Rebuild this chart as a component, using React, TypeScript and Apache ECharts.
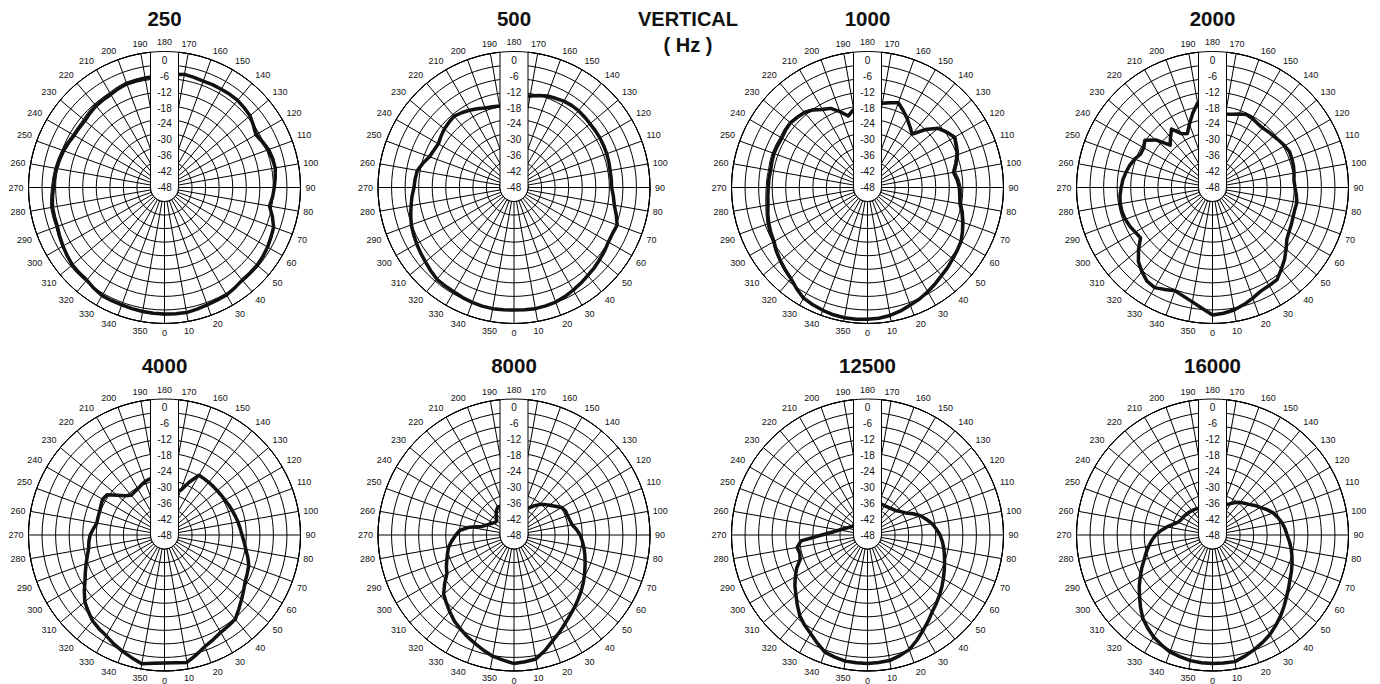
import React, { useEffect, useRef } from "react";
import * as echarts from "echarts";

// ---------------- data ----------------
const ANGLES = [
  0, 5, 10, 15, 20, 25, 30, 35, 40, 45, 50, 55, 60, 65, 70, 75, 80, 85, 90, 95,
  100, 105, 110, 115, 120, 125, 130, 135, 140, 145, 150, 155, 160, 165, 170, 175,
  180, 185, 190, 195, 200, 205, 210, 215, 220, 225, 230, 235, 240, 245, 250, 255,
  260, 265, 270, 275, 280, 285, 290, 295, 300, 305, 310, 315, 320, 325, 330, 335,
  340, 345, 350, 355,
];

const DB_LABELS = [0, -6, -12, -18, -24, -30, -36, -42, -48];

const DB_250 = [
  -0.2, -0.1, 0, -0.4, -0.8, -1.0, -1.1, -1.7, -2.3, -2.3,
  -2.3, -2.6, -3.0, -3.6, -4.1, -5.8, -7.7, -7.0, -6.5, -6.0,
  -5.5, -5.8, -6.4, -7.2, -8.1, -7.0, -5.8, -5.4, -5.0, -5.0,
  -5.1, -5.1, -5.2, -4.9, -4.6, -5.0, -5.5, -6.0, -6.1, -6.2,
  -6.3, -6.8, -7.4, -7.6, -7.7, -8.2, -8.7, -8.7, -8.6, -8.0,
  -7.4, -7.0, -6.6, -6.3, -6.0, -5.5, -5.0, -5.0, -4.9, -4.3,
  -3.7, -3.1, -2.5, -2.4, -2.3, -1.5, -0.8, -0.8, -0.8, -0.6,
  -0.4, -0.3,
];
const THIN_250 = [
  0.2, 0.2, 0.1, -0.3, -0.6, -0.8, -1.0, -1.5, -2.0, -2.0,
  -2.0, -2.3, -2.7, -3.3, -4.0, -5.6, -7.4, -6.8, -6.3, -5.7,
  -5.2, -5.2, -5.6, -6.6, -7.4, -6.6, -5.6, -5.2, -4.8, -4.8,
  -4.9, -4.9, -5.0, -4.7, -4.4, -4.6, -5.0, -5.4, -5.5, -5.6,
  -5.6, -6.0, -6.5, -6.8, -6.9, -7.4, -7.9, -8.0, -7.9, -7.3,
  -6.7, -6.3, -5.9, -5.6, -5.3, -4.8, -4.3, -4.3, -4.3, -3.8,
  -3.3, -2.8, -2.2, -2.1, -2.0, -1.3, -0.7, -0.6, -0.5, -0.3,
  -0.1, 0.0,
];
const DB_500 = [
  -1.7, -1.6, -1.5, -1.7, -1.9, -2.5, -3.2, -3.9, -4.6, -5.1,
  -5.7, -6.2, -6.8, -6.9, -6.5, -8.0, -9.5, -10.3, -11.1, -11.1,
  -11.1, -10.9, -10.7, -10.6, -10.5, -10.5, -10.5, -10.3, -10.1, -10.1,
  -10.3, -10.8, -11.2, -12.0, -12.9, -13.5, -14.5, -15.5, -16.7, -16.4,
  -16.0, -15.2, -14.3, -13.5, -12.8, -13.2, -13.6, -14.3, -15.0, -14.6,
  -14.0, -12.4, -10.9, -10.5, -10.2, -9.3, -8.5, -7.6, -6.7, -6.1,
  -5.5, -4.9, -4.3, -3.5, -2.7, -2.6, -2.5, -2.1, -1.8, -1.6,
  -1.5, -1.6,
];
const DB_1000 = [
  1.8, 1.6, 1.1, 0.3, -0.7, -1.5, -2.5, -3.5, -4.5, -5.2,
  -6.0, -6.6, -7.2, -8.4, -9.7, -11.0, -12.5, -13.0, -13.3, -14.0,
  -15.0, -13.5, -12.0, -11.0, -10.0, -11.5, -13.2, -17.0, -21.7, -20.0,
  -18.0, -16.0, -13.9, -14.8, -15.7, -16.0, -16.5, -17.5, -18.0, -20.0,
  -17.5, -15.0, -14.0, -12.2, -11.0, -10.5, -10.0, -10.2, -10.6, -10.5,
  -10.4, -10.6, -10.8, -10.6, -10.5, -10.2, -9.8, -9.0, -8.3, -7.7,
  -7.2, -6.0, -5.0, -4.0, -3.0, -1.3, 0.3, 0.9, 1.4, 1.8,
  2.0, 2.0,
];
const THIN_1000 = [
  2.0, 1.8, 1.3, 0.5, -0.4, -1.2, -2.2, -3.2, -4.2, -4.9,
  -5.7, -6.3, -6.9, -8.0, -9.2, -10.4, -11.8, -12.3, -12.6, -13.2,
  -14.2, -12.8, -11.3, -10.4, -9.5, -11.0, -12.8, -16.6, -21.3, -19.7,
  -17.7, -15.7, -13.6, -14.5, -15.4, -15.7, -16.2, -17.2, -17.7, -19.6,
  -17.0, -14.6, -13.5, -11.7, -10.5, -10.0, -9.5, -9.6, -9.9, -9.8,
  -9.7, -9.8, -10.0, -9.8, -9.7, -9.4, -9.0, -8.3, -7.6, -7.0,
  -6.6, -5.5, -4.6, -3.6, -2.6, -1.0, 0.5, 1.1, 1.6, 2.0,
  2.2, 2.2,
];
const DB_2000 = [
  0.2, -0.3, -1.0, -2.2, -3.5, -4.8, -5.2, -5.5, -7.6, -9.5,
  -11.7, -13.7, -14.6, -15.1, -15.6, -15.8, -15.6, -16.2, -16.8, -17.1,
  -16.7, -16.3, -16.1, -15.9, -16.5, -17.2, -17.8, -18.2, -18.6, -18.4,
  -17.9, -17.6, -18.4, -19.3, -19.8, -19.0, -18.0, -17.0, -15.6, -19.0,
  -22.5, -25.5, -24.5, -21.0, -23.3, -25.4, -20.0, -16.8, -18.0, -18.0,
  -16.7, -15.6, -14.8, -14.0, -13.5, -12.9, -12.6, -12.6, -12.9, -13.5,
  -14.3, -14.8, -11.5, -8.4, -6.5, -4.8, -4.3, -5.5, -6.5, -5.5,
  -4.1, -2.2,
];
const DB_4000 = [
  0.4, 0.5, 0.9, -1.2, -3.2, -4.4, -5.5, -6.0, -6.4, -8.3,
  -10.0, -11.5, -12.8, -13.5, -14.1, -15.4, -16.8, -17.8, -18.7, -19.3,
  -19.8, -20.3, -20.8, -21.2, -21.6, -21.8, -22.0, -22.0, -22.0, -22.0,
  -21.9, -26.0, -30.0, -30.5, -31.0, -31.0, -30.0, -28.0, -26.0, -26.1,
  -26.5, -27.2, -27.8, -28.2, -28.4, -27.0, -24.7, -21.5, -21.0, -21.5,
  -21.9, -22.0, -22.0, -21.0, -19.9, -19.3, -18.9, -17.8, -16.5, -15.0,
  -13.3, -11.0, -8.7, -7.2, -5.7, -4.8, -4.0, -2.6, -1.3, 0.0,
  1.4, 0.7,
];
const DB_8000 = [
  0.6, 0.1, -0.4, -2.8, -5.4, -7.4, -9.4, -11.0, -12.4, -13.7,
  -14.9, -16.1, -17.3, -18.4, -19.4, -20.3, -21.2, -22.1, -23.0, -24.3,
  -25.7, -26.2, -26.5, -26.5, -27.2, -29.0, -30.5, -31.7, -33.0, -34.5,
  -36.0, -37.0, -37.6, -38.0, -38.0, -38.0, -38.0, -37.5, -37.0, -36.8,
  -36.5, -36.0, -35.8, -36.5, -37.5, -38.5, -39.5, -39.5, -38.9, -38.0,
  -37.0, -35.5, -31.0, -27.5, -26.0, -24.5, -23.0, -22.0, -21.0, -19.8,
  -18.7, -16.0, -13.3, -11.8, -10.2, -8.5, -7.2, -5.8, -4.5, -3.0,
  -1.5, -0.5,
];
const DB_12500 = [
  0.6, 0.4, 0.2, -0.8, -1.9, -4.0, -6.2, -8.1, -10.0, -11.3,
  -12.5, -13.7, -14.9, -16.0, -17.0, -17.9, -18.7, -19.6, -20.6, -21.9,
  -23.2, -25.0, -26.7, -29.0, -31.3, -32.6, -33.8, -34.3, -34.7, -35.0,
  -35.2, -35.2, -35.2, -35.5, -36.0, -37.0, -38.0, -39.0, -40.0, -40.5,
  -41.0, -41.3, -41.5, -41.5, -41.5, -41.5, -41.5, -41.5, -41.5, -40.8,
  -40.0, -38.8, -37.2, -34.8, -30.7, -22.8, -21.0, -21.5, -20.9, -18.5,
  -16.5, -14.5, -12.7, -10.5, -8.2, -6.5, -5.0, -3.0, -0.9, -0.2,
  0.4, 0.5,
];
const DB_16000 = [
  0.6, 0.6, 0.6, -0.6, -1.9, -3.2, -4.6, -6.3, -8.0, -9.8,
  -11.5, -12.9, -14.2, -15.1, -16.0, -16.9, -17.8, -18.8, -19.8, -20.5,
  -21.3, -22.4, -23.6, -25.3, -27.1, -28.5, -30.0, -31.0, -31.9, -33.0,
  -34.3, -35.3, -36.3, -36.7, -37.0, -37.0, -37.0, -37.0, -37.0, -37.0,
  -37.0, -36.7, -36.5, -36.2, -36.0, -35.7, -35.5, -35.2, -35.0, -34.7,
  -34.0, -32.5, -30.5, -28.5, -26.5, -25.0, -23.5, -22.0, -20.5, -18.5,
  -16.5, -14.2, -12.0, -9.5, -7.0, -5.2, -3.5, -2.2, -1.0, -0.4,
  0.2, 0.5,
];

const TITLES = ["250", "500", "1000", "2000", "4000", "8000", "12500", "16000"];
const THICK = [DB_250, DB_500, DB_1000, DB_2000, DB_4000, DB_8000, DB_12500, DB_16000];
const THIN: (number[] | null)[] = [THIN_250, null, THIN_1000, null, null, null, null, null];
const MAIN_TITLE = "VERTICAL";
const SUB_TITLE = "( Hz )";

// ---------------- layout ----------------
const W = 1380;
const H = 684;
const COL_X = [164.5, 514, 867.5, 1212.5];
const ROW_Y = [187.5, 535];
const R = 136;
const R_CAP = 14;
const DB_MIN = -48;
const DB_MAX = 3.4;
const FONT = "'Liberation Sans', Arial, Helvetica, sans-serif";
const INK = "#111";

function toSeriesData(values: number[]) {
  const d = ANGLES.map((a, j) => [values[j], a]);
  d.push([values[0], 360]);
  return d;
}

function buildOption() {
  const polar: any[] = [];
  const angleAxis: any[] = [];
  const radiusAxis: any[] = [];
  const series: any[] = [];
  const graphic: any[] = [];

  TITLES.forEach((title, i) => {
    const cx = COL_X[i % 4];
    const cy = ROW_Y[Math.floor(i / 4)];
    const base = i * 3;

    // grid polar (spokes + circles + angle labels)
    polar.push({ center: [cx, cy], radius: [R_CAP, R] });
    angleAxis.push({
      polarIndex: base,
      type: "value",
      min: 0,
      max: 360,
      interval: 10,
      startAngle: -90,
      clockwise: false,
      z: 1,
      axisLine: { show: true, lineStyle: { color: "#000", width: 1 } },
      axisTick: { show: false },
      axisLabel: { show: true, margin: 5, fontSize: 9, color: INK, fontFamily: FONT },
      splitLine: { show: true, lineStyle: { color: "#000", width: 1 } },
    });
    radiusAxis.push({
      polarIndex: base,
      type: "value",
      min: 0,
      max: 9,
      interval: 1,
      z: 1,
      axisLine: { show: false },
      axisTick: { show: false },
      axisLabel: { show: false },
      splitLine: { show: true, lineStyle: { color: "#000", width: 1 } },
    });

    // data polar
    polar.push({ center: [cx, cy], radius: [0, R] });
    angleAxis.push({
      polarIndex: base + 1,
      type: "value",
      min: 0,
      max: 360,
      startAngle: -90,
      clockwise: false,
      show: false,
    });
    radiusAxis.push({ polarIndex: base + 1, type: "value", min: DB_MIN, max: DB_MAX, show: false });

    // top polar (outer circle over strip + dB labels)
    polar.push({ center: [cx, cy], radius: [0, R] });
    angleAxis.push({
      polarIndex: base + 2,
      type: "value",
      min: 0,
      max: 360,
      startAngle: 90,
      z: 6,
      axisLine: { show: true, lineStyle: { color: "#000", width: 1 } },
      axisTick: { show: false },
      axisLabel: { show: false },
      splitLine: { show: false },
    });
    radiusAxis.push({
      polarIndex: base + 2,
      type: "value",
      min: DB_MIN,
      max: DB_MAX,
      interval: 6,
      z: 6,
      axisLine: { show: false },
      axisTick: { show: false },
      splitLine: { show: false },
      axisLabel: {
        show: true,
        margin: 0,
        align: "center",
        verticalAlign: "middle",
        fontSize: 10,
        color: INK,
        fontFamily: FONT,
        formatter: (v: number) => (DB_LABELS.indexOf(Math.round(v * 1000) / 1000) >= 0 ? String(v) : ""),
      },
    });

    const thin = THIN[i];
    if (thin) {
      series.push({
        type: "line",
        coordinateSystem: "polar",
        polarIndex: base + 1,
        data: toSeriesData(thin),
        symbol: "none",
        silent: true,
        z: 3,
        lineStyle: { color: INK, width: 1 },
      });
    }
    series.push({
      type: "line",
      coordinateSystem: "polar",
      polarIndex: base + 1,
      data: toSeriesData(THICK[i]),
      symbol: "none",
      silent: true,
      z: 4,
      lineStyle: { color: INK, width: 3.5, join: "round" },
    });

    // white label strip with rounded cap
    series.push({
      type: "custom",
      coordinateSystem: "polar",
      polarIndex: base + 1,
      silent: true,
      z: 5,
      data: [[0, 0]],
      renderItem: (params: any) => {
        const cs = params.coordSys;
        const x0 = cs.cx;
        const y0 = cs.cy;
        const rr = cs.r;
        const top = y0 - Math.sqrt(rr * rr - R_CAP * R_CAP);
        return {
          type: "group",
          children: [
            { type: "circle", shape: { cx: x0, cy: y0, r: R_CAP }, style: { fill: "#fff", stroke: "#000", lineWidth: 1 } },
            { type: "rect", shape: { x: x0 - R_CAP, y: y0 - rr - 1, width: 2 * R_CAP, height: rr + 1 }, style: { fill: "#fff", stroke: null } },
            { type: "line", shape: { x1: x0 - R_CAP, y1: top, x2: x0 - R_CAP, y2: y0 }, style: { stroke: "#000", lineWidth: 1 } },
            { type: "line", shape: { x1: x0 + R_CAP, y1: top, x2: x0 + R_CAP, y2: y0 }, style: { stroke: "#000", lineWidth: 1 } },
          ],
        };
      },
    });

    graphic.push({
      type: "text",
      x: cx,
      y: cy - 169.5,
      silent: true,
      style: {
        text: title,
        fill: INK,
        fontSize: 20.5,
        fontWeight: "bold",
        fontFamily: FONT,
        textAlign: "center",
        textVerticalAlign: "middle",
        align: "center",
        verticalAlign: "middle",
      },
    });
  });

  graphic.push({
    type: "text",
    x: 688,
    y: 19,
    silent: true,
    style: { text: MAIN_TITLE, fill: INK, fontSize: 20, fontWeight: "bold", fontFamily: FONT, textAlign: "center", textVerticalAlign: "middle", align: "center", verticalAlign: "middle" },
  });
  graphic.push({
    type: "text",
    x: 688,
    y: 45,
    silent: true,
    style: { text: SUB_TITLE, fill: INK, fontSize: 20, fontWeight: "bold", fontFamily: FONT, textAlign: "center", textVerticalAlign: "middle", align: "center", verticalAlign: "middle" },
  });

  return {
    animation: false,
    backgroundColor: "#fff",
    polar,
    angleAxis,
    radiusAxis,
    series,
    graphic,
  };
}

export default function App() {
  const ref = useRef<HTMLDivElement>(null);
  useEffect(() => {
    if (!ref.current) return;
    const chart = echarts.init(ref.current, undefined, { renderer: "svg" });
    chart.setOption(buildOption() as any);
    return () => chart.dispose();
  }, []);
  return (
    <div
      ref={ref}
      style={{ position: "fixed", left: 0, top: 0, width: W, height: H, background: "#fff" }}
    />
  );
}
